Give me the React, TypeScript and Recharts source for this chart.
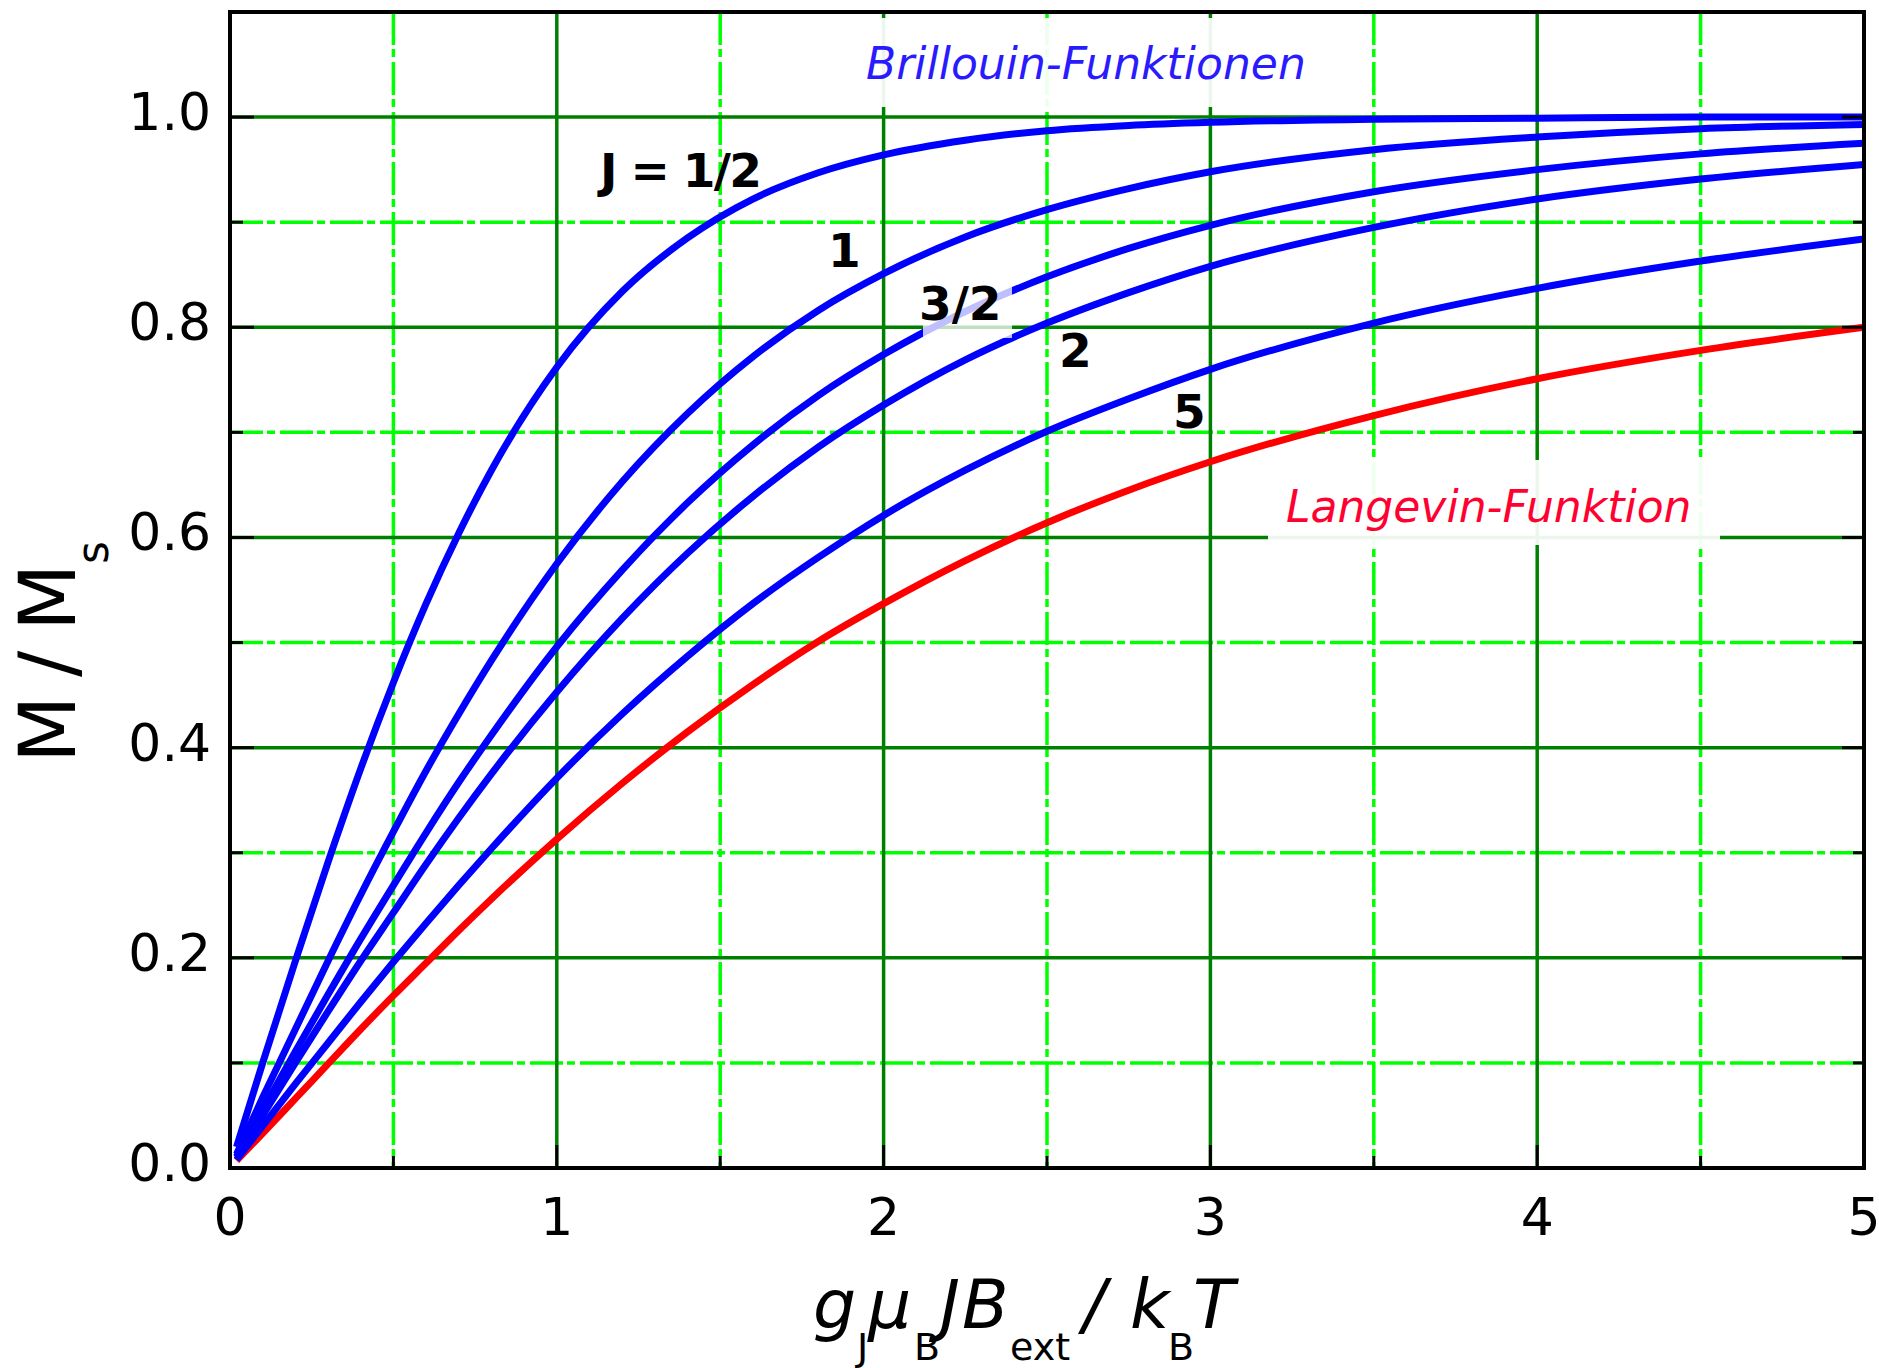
import React from 'react';
import { LineChart, Line, XAxis, YAxis, CartesianGrid } from 'recharts';

// x = g_J mu_B J B_ext / k_B T
const xs = [0.02, 0.1, 0.2, 0.3, 0.4, 0.5, 0.6, 0.7, 0.8, 1.0, 1.2, 1.4, 1.6, 1.8, 2.0, 2.25, 2.5, 2.75, 3.0, 3.5, 4.0, 4.5, 5.0];

// M / M_s
const j12 = [0.020, 0.100, 0.197, 0.291, 0.380, 0.462, 0.537, 0.604, 0.664, 0.762, 0.834, 0.885, 0.922, 0.947, 0.964, 0.978, 0.987, 0.992, 0.995, 0.998, 0.999, 1.000, 1.000];
const j1 = [0.013, 0.067, 0.132, 0.197, 0.260, 0.320, 0.378, 0.432, 0.483, 0.575, 0.653, 0.718, 0.772, 0.816, 0.851, 0.886, 0.912, 0.932, 0.948, 0.969, 0.981, 0.989, 0.993];
const j32 = [0.011, 0.055, 0.111, 0.165, 0.218, 0.269, 0.319, 0.367, 0.412, 0.496, 0.569, 0.633, 0.688, 0.735, 0.774, 0.815, 0.848, 0.875, 0.897, 0.929, 0.950, 0.965, 0.975];
const j2 = [0.010, 0.050, 0.100, 0.149, 0.197, 0.243, 0.289, 0.333, 0.375, 0.453, 0.523, 0.585, 0.639, 0.686, 0.726, 0.769, 0.804, 0.833, 0.858, 0.895, 0.922, 0.941, 0.955];
const j5 = [0.008, 0.040, 0.080, 0.119, 0.158, 0.196, 0.233, 0.269, 0.304, 0.371, 0.432, 0.487, 0.537, 0.581, 0.621, 0.664, 0.701, 0.732, 0.760, 0.804, 0.837, 0.863, 0.884];
const langevin = [0.007, 0.033, 0.066, 0.099, 0.132, 0.164, 0.195, 0.226, 0.256, 0.313, 0.366, 0.415, 0.460, 0.501, 0.537, 0.578, 0.614, 0.645, 0.672, 0.716, 0.751, 0.778, 0.800];

const xTicks = [0, 0.5, 1, 1.5, 2, 2.5, 3, 3.5, 4, 4.5, 5];
const xMajor = [1, 2, 3, 4];
const xMinor = [0.5, 1.5, 2.5, 3.5, 4.5];
const yTicks = [0, 0.1, 0.2, 0.3, 0.4, 0.5, 0.6, 0.7, 0.8, 0.9, 1.0];
const yMajor = [0.2, 0.4, 0.6, 0.8, 1.0];
const yMinor = [0.1, 0.3, 0.5, 0.7, 0.9];

const data = xs.map((x, i) => ({
  x,
  j12: j12[i],
  j1: j1[i],
  j32: j32[i],
  j2: j2[i],
  j5: j5[i],
  langevin: langevin[i],
}));

const FONT = 'DejaVu Sans';
const BLUE = '#0000ff';

const XTick = (props: any) => {
  const { x, y, payload } = props;
  const v = payload.value;
  const major = Number.isInteger(v);
  const inner = v > 0 && v < 5;
  return (
    <g>
      {inner && <line x1={x} y1={y} x2={x} y2={y - (major ? 23 : 12)} stroke="#000" strokeWidth={3} />}
      {major && (
        <text x={x} y={y + 67} textAnchor="middle" fontFamily={FONT} fontSize={52} fill="#000">
          {String(v)}
        </text>
      )}
    </g>
  );
};

const YTickLeft = (props: any) => {
  const { x, y, payload } = props;
  const v = payload.value;
  const major = Math.round(v * 10) % 2 === 0;
  const inner = v > 0.001 && v < 1.09;
  return (
    <g>
      {inner && <line x1={x} y1={y} x2={x + (major ? 24 : 13)} y2={y} stroke="#000" strokeWidth={3} />}
      {major && (
        <text x={x - 19} y={y + 13} textAnchor="end" fontFamily={FONT} fontSize={52} fill="#000">
          {v.toFixed(1)}
        </text>
      )}
    </g>
  );
};

const YTickRight = (props: any) => {
  const { x, y, payload } = props;
  const v = payload.value;
  const major = Math.round(v * 10) % 2 === 0;
  const inner = v > 0.001 && v < 1.09;
  if (!inner) return <g />;
  return <line x1={x - (major ? 22 : 11)} y1={y} x2={x} y2={y} stroke="#000" strokeWidth={3} />;
};

export default function App() {
  return (
    <div style={{ position: 'absolute', left: 0, top: 0, width: 1879, height: 1368, background: '#fff' }}>
      <LineChart width={1879} height={1368} data={data} margin={{ top: 12, right: 0, bottom: 0, left: 0 }}>
        <XAxis
          xAxisId="x"
          type="number"
          dataKey="x"
          domain={[0, 5]}
          ticks={xTicks}
          interval={0}
          allowDataOverflow
          height={200}
          tickSize={0}
          tickMargin={0}
          tickLine={false}
          axisLine={false}
          tick={XTick}
        />
        <YAxis
          yAxisId="y"
          type="number"
          domain={[0, 1.1]}
          ticks={yTicks}
          interval={0}
          allowDataOverflow
          width={230}
          tickSize={0}
          tickMargin={0}
          tickLine={false}
          axisLine={false}
          tick={YTickLeft}
        />
        <YAxis
          yAxisId="yr"
          orientation="right"
          type="number"
          domain={[0, 1.1]}
          ticks={yTicks}
          interval={0}
          allowDataOverflow
          width={15}
          tickSize={0}
          tickMargin={0}
          tickLine={false}
          axisLine={false}
          tick={YTickRight}
        />
        {/* hidden axes only used to place major / minor grid lines */}
        <XAxis xAxisId="major" type="number" dataKey="x" domain={[0, 5]} ticks={xMajor} allowDataOverflow height={0} hide />
        <XAxis xAxisId="minor" type="number" dataKey="x" domain={[0, 5]} ticks={xMinor} allowDataOverflow height={0} hide />
        <YAxis yAxisId="major" type="number" domain={[0, 1.1]} ticks={yMajor} allowDataOverflow width={0} hide />
        <YAxis yAxisId="minor" type="number" domain={[0, 1.1]} ticks={yMinor} allowDataOverflow width={0} hide />
        <CartesianGrid xAxisId="minor" yAxisId="minor" stroke="#00ff00" strokeWidth={3.5} strokeDasharray="33 4 8 5" />
        <CartesianGrid xAxisId="major" yAxisId="major" stroke="#008000" strokeWidth={3.5} />

        <Line xAxisId="x" yAxisId="y" type="monotone" dataKey="langevin" stroke="#ff0000" strokeWidth={7} dot={false} isAnimationActive={false} />
        <Line xAxisId="x" yAxisId="y" type="monotone" dataKey="j5" stroke={BLUE} strokeWidth={7} dot={false} isAnimationActive={false} />
        <Line xAxisId="x" yAxisId="y" type="monotone" dataKey="j2" stroke={BLUE} strokeWidth={7} dot={false} isAnimationActive={false} />
        <Line xAxisId="x" yAxisId="y" type="monotone" dataKey="j32" stroke={BLUE} strokeWidth={7} dot={false} isAnimationActive={false} />
        <Line xAxisId="x" yAxisId="y" type="monotone" dataKey="j1" stroke={BLUE} strokeWidth={7} dot={false} isAnimationActive={false} />
        <Line xAxisId="x" yAxisId="y" type="monotone" dataKey="j12" stroke={BLUE} strokeWidth={7} dot={false} isAnimationActive={false} />
      </LineChart>

      {/* frame, annotations and axis titles */}
      <svg
        width={1879}
        height={1368}
        style={{ position: 'absolute', left: 0, top: 0, pointerEvents: 'none' }}
        fontFamily={FONT}
      >
        <rect x={230} y={12} width={1634} height={1156} fill="none" stroke="#000" strokeWidth={4} />

        <rect x={844} y={18} width={496} height={89} fill="#fff" fillOpacity={0.93} />
        <text x={866} y={79} fontSize={44} fontStyle="italic" fill="#2a1bff">Brillouin-Funktionen</text>

        <rect x={1268} y={460} width={452} height={85} fill="#fff" fillOpacity={0.93} />
        <text x={1286} y={522} fontSize={44} fontStyle="italic" fill="#ff0030">Langevin-Funktion</text>

        <text x={600} y={187} fontSize={47} fontWeight="bold" fill="#000" textLength={162} lengthAdjust="spacing">J = 1/2</text>
        <text x={828} y={267} fontSize={47} fontWeight="bold" fill="#000">1</text>
        <rect x={923} y={275} width={89} height={63} fill="#fff" fillOpacity={0.75} />
        <text x={919} y={320} fontSize={47} fontWeight="bold" fill="#000">3/2</text>
        <text x={1059} y={367} fontSize={47} fontWeight="bold" fill="#000">2</text>
        <text x={1173} y={428} fontSize={47} fontWeight="bold" fill="#000">5</text>

        <text transform="translate(75, 755) rotate(-90)" fontSize={78} fill="#000">
          <tspan x={-8} y={0}>M</tspan>
          <tspan x={78} y={0}>/</tspan>
          <tspan x={124} y={0}>M</tspan>
          <tspan x={191} y={33} fontSize={44}>s</tspan>
        </text>

        <text fontSize={68} fill="#000">
          <tspan x={813} y={1328} fontStyle="italic">g</tspan>
          <tspan x={857} y={1360} fontSize={38}>J</tspan>
          <tspan x={868} y={1328} fontStyle="italic">μ</tspan>
          <tspan x={914} y={1360} fontSize={38}>B</tspan>
          <tspan x={940} y={1328} fontStyle="italic">J</tspan>
          <tspan x={962} y={1328} fontStyle="italic">B</tspan>
          <tspan x={1010} y={1360} fontSize={38}>ext</tspan>
          <tspan x={1083} y={1328} fontStyle="italic">/</tspan>
          <tspan x={1130} y={1328} fontStyle="italic">k</tspan>
          <tspan x={1168} y={1360} fontSize={38}>B</tspan>
          <tspan x={1193} y={1328} fontStyle="italic">T</tspan>
        </text>
      </svg>
    </div>
  );
}
